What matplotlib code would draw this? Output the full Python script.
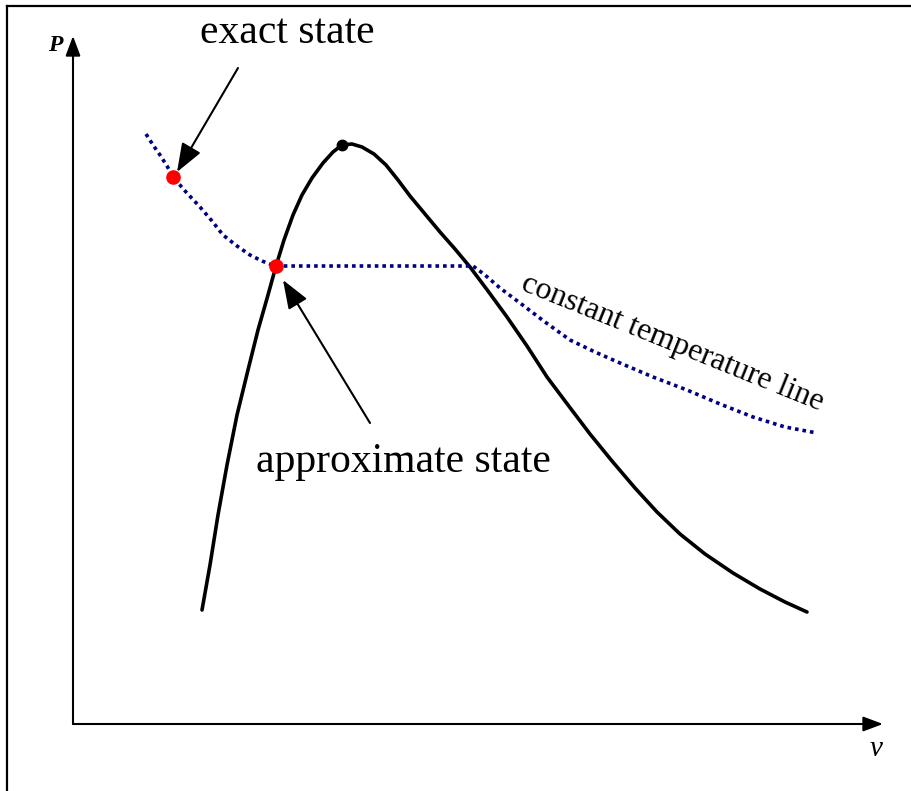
import matplotlib
matplotlib.use("Agg")
import matplotlib.pyplot as plt
from matplotlib.lines import Line2D

# ---- data (v, P) ----
dome_v = [1.29, 1.37, 1.45, 1.54, 1.64, 1.75, 1.85, 1.95, 2.03, 2.11, 2.20, 2.29, 2.39,
          2.50, 2.60, 2.69, 2.79, 2.89, 3.01, 3.13, 3.25, 3.37, 3.52, 3.67, 3.82, 3.97,
          4.15, 4.34, 4.54, 4.74, 4.95, 5.17, 5.39, 5.62, 5.84, 6.07, 6.32, 6.60, 6.87,
          7.12, 7.34]
dome_p = [1.14, 1.59, 2.09, 2.59, 3.09, 3.54, 3.94, 4.29, 4.58, 4.84, 5.09, 5.29, 5.46,
          5.61, 5.72, 5.79, 5.80, 5.77, 5.70, 5.59, 5.44, 5.28, 5.10, 4.92, 4.75, 4.57,
          4.33, 4.07, 3.78, 3.47, 3.19, 2.90, 2.63, 2.36, 2.12, 1.90, 1.70, 1.51, 1.35,
          1.22, 1.12]

iso_v = [0.73, 0.80, 0.87, 0.94, 1.00, 1.13, 1.27, 1.39, 1.50, 1.64, 1.77, 1.89, 2.02,
         4.00, 4.12, 4.27, 4.47, 4.72, 4.97, 5.22, 5.47, 5.80, 6.14, 6.47, 6.80, 7.12, 7.44]
iso_p = [5.90, 5.79, 5.69, 5.58, 5.47, 5.32, 5.17, 5.03, 4.89, 4.78, 4.69, 4.63, 4.58,
         4.58, 4.49, 4.36, 4.21, 4.02, 3.84, 3.72, 3.61, 3.47, 3.34, 3.20, 3.07, 2.97, 2.91]

critical_pt = (2.69, 5.79)
exact_pt = (1.00, 5.47)
approx_pt = (2.03, 4.58)

labels = {"exact": "exact state", "approx": "approximate state",
          "iso": "constant temperature line", "x": "v", "y": "P"}

W, H = 911, 791
fig = plt.figure(figsize=(W / 100, H / 100), dpi=100)
ax = fig.add_axes([0, 0, 1, 1])
ax.set_xlim(-0.73, (W - 73) / 100)
ax.set_ylim((724 - H) / 100, 7.24)
ax.axis("off")

serif = "Liberation Serif"

# border (top and left)
fig.add_artist(Line2D([7 / W, 1], [1 - 6 / H, 1 - 6 / H], transform=fig.transFigure, color="k", lw=1.6))
fig.add_artist(Line2D([7 / W, 7 / W], [0, 1 - 6 / H], transform=fig.transFigure, color="k", lw=1.6))

# axes arrows
axis_kw = dict(arrowstyle="-|>,head_length=0.8,head_width=0.3", color="k", lw=1.5,
               mutation_scale=15, shrinkA=0, shrinkB=0)
ax.annotate("", xy=(0, 6.88), xytext=(0, 0), arrowprops=axis_kw)
ax.annotate("", xy=(8.10, 0), xytext=(0, 0), arrowprops=axis_kw)
ax.text(-0.18, 6.79, labels["y"], family=serif, style="italic", weight="bold",
        fontsize=17, ha="center", va="center")
ax.text(8.03, -0.25, labels["x"], family=serif, style="italic",
        fontsize=21, ha="center", va="center")

# curves
ax.plot(dome_v, dome_p, color="k", lw=2.6, solid_capstyle="round", solid_joinstyle="round")
ax.plot(iso_v, iso_p, color="#000080", lw=2.6, linestyle=(0, (1, 1.1)))

ax.plot(*critical_pt, "o", color="k", ms=7.5, zorder=5)
ax.plot(*exact_pt, "o", color="red", ms=9.5, zorder=5)
ax.plot(*approx_pt, "o", color="red", ms=9.5, zorder=5)

# annotations
arr_kw = dict(arrowstyle="-|>,head_length=0.8,head_width=0.3", color="k", lw=1.5,
              mutation_scale=22, shrinkA=0, shrinkB=0)
ax.annotate("", xy=(1.04, 5.52), xytext=(1.65, 6.56), arrowprops=arr_kw)
ax.annotate("", xy=(2.10, 4.44), xytext=(2.97, 3.01), arrowprops=arr_kw)

ax.text(2.14, 6.81, labels["exact"], family=serif, fontsize=30, ha="center", va="baseline")
ax.text(3.30, 2.52, labels["approx"], family=serif, fontsize=30, ha="center", va="baseline")
ax.text(4.47, 4.34, labels["iso"], family=serif, fontsize=23, ha="left", va="baseline",
        rotation=-22, rotation_mode="anchor")

fig.savefig("out.png", dpi=100)
